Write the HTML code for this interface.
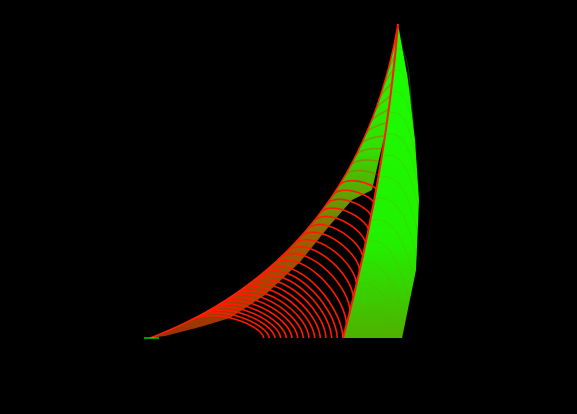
<!DOCTYPE html>
<html><head><meta charset="utf-8"><style>
html,body{margin:0;padding:0;background:#000;width:577px;height:414px;overflow:hidden}
svg{display:block}
</style></head><body>
<svg id="chart" width="577" height="414" viewBox="0 0 577 414">
<rect width="577" height="414" fill="#000"/>
<g id="green"></g>
<g id="red"></g>
<line x1="144" y1="338" x2="159" y2="338" stroke="#00ff00" stroke-width="1.2"/>
</svg>
<script>
// curve parameters (fraction along landing path)
const redFractions = [0.02,0.04,0.06,0.08,0.10,0.12,0.14,0.16,0.18,0.20,0.22,0.24,0.26,0.28,0.30,0.33,0.36,0.39,0.42,0.45,0.48,0.51,0.54,0.57,0.60,0.63,0.66,0.69,0.72,0.75,0.78,0.81,0.84,0.87,0.90,0.93,0.96];
const greenFractions = [0.0,0.08,0.16,0.24,0.32,0.4,0.48,0.56,0.64,0.72,0.8,0.88,0.96];

const NS='http://www.w3.org/2000/svg';
const O={x:150,y:338}, TOP={x:398,y:24}, LB={x:343,y:338};
function env(u){
  const p0=O,p1={x:250,y:300},p2={x:365,y:215},p3=TOP;const m=1-u;
  return {x:m*m*m*p0.x+3*m*m*u*p1.x+3*m*u*u*p2.x+u*u*u*p3.x,
          y:m*m*m*p0.y+3*m*m*u*p1.y+3*m*u*u*p2.y+u*u*u*p3.y};
}
function lineL(t){
  const c={x:385,y:180},m=1-t;
  return {x:m*m*LB.x+2*m*t*c.x+t*t*TOP.x,y:m*m*LB.y+2*m*t*c.y+t*t*TOP.y};
}
function landing(f){
  const a=0.3;
  if(f<=a){return {x:258+(LB.x-258)*f/a,y:338};}
  return lineL((f-a)/(1-a));
}
function right(t){
  const pts=[[398,24],[408,80],[415,140],[419,200],[416,270],[402,338]];
  const s=t*(pts.length-1),i=Math.min(Math.floor(s),pts.length-2),r=s-i;
  return {x:pts[i][0]+(pts[i+1][0]-pts[i][0])*r,y:pts[i][1]+(pts[i+1][1]-pts[i][1])*r};
}
const G=document.getElementById('green'),R=document.getElementById('red');
const defs=document.createElementNS(NS,'defs');
defs.innerHTML='<linearGradient id="gg" x1="0" y1="0" x2="0" y2="1"><stop offset="0" stop-color="#1aff00"/><stop offset="0.7" stop-color="#22f000"/><stop offset="1" stop-color="#4fb000"/></linearGradient>'+
'<linearGradient id="bg" gradientUnits="userSpaceOnUse" x1="0" y1="338" x2="0" y2="24"><stop offset="0" stop-color="#a03000"/><stop offset="0.3" stop-color="#a05a00"/><stop offset="0.45" stop-color="#60a000"/><stop offset="0.6" stop-color="#30e000"/><stop offset="1" stop-color="#20ff00"/></linearGradient>';
document.getElementById('chart').insertBefore(defs,G);
let d='M'+LB.x+','+LB.y;
for(let k=1;k<=30;k++){const p=lineL(k/30);d+=' L'+p.x.toFixed(1)+','+p.y.toFixed(1);}
for(let k=0;k<=40;k++){const p=right(k/40);d+=' L'+p.x.toFixed(1)+','+p.y.toFixed(1);}
const fill=document.createElementNS(NS,'path');
fill.setAttribute('d',d+' Z');fill.setAttribute('fill','url(#gg)');


G.appendChild(fill);
greenFractions.forEach(g=>{
  const t=0.1+g*0.85;
  const P=lineL(t);
  const Q=right(Math.min(1,(1-t)+0.2));
  const c={x:(P.x+Q.x)/2+6,y:Math.min(P.y,Q.y)-10};
  const p=document.createElementNS(NS,'path');
  p.setAttribute('d',`M${P.x},${P.y} Q${c.x},${c.y} ${Q.x},${Q.y}`);
  p.setAttribute('fill','none');p.setAttribute('stroke','#60b000');p.setAttribute('stroke-opacity','0.3');p.setAttribute('stroke-width','1');
  
  
  G.appendChild(p);
});
const inner=[[165,336],[200,327],[230,318],[265,295],[300,262],[330,225],[352,200],[372,190],[385,133],[393,80],[398,24]];
let bd='M'+O.x+','+O.y;
for(let k=1;k<=50;k++){const p=env(k/50);bd+=' L'+p.x.toFixed(1)+','+p.y.toFixed(1);}
for(let k=inner.length-1;k>=0;k--){bd+=' L'+inner[k][0]+','+inner[k][1];}
const band=document.createElementNS(NS,'path');
band.setAttribute('d',bd+' Z');band.setAttribute('fill','url(#bg)');


R.appendChild(band);
redFractions.forEach(f=>{
  const E=landing(f);
  const u=Math.min(0.95,0.12+0.85*f);
  const D=env(u);const D2=env(u+0.01);
  const tx=D2.x-D.x,ty=D2.y-D.y,L=Math.hypot(tx,ty);
  const dist=Math.hypot(E.x-D.x,E.y-D.y);
  const c1={x:D.x+tx/L*dist*0.35,y:D.y+ty/L*dist*0.35};
  const c2={x:E.x-2,y:E.y-(E.y-D.y)*0.5-4};
  const pd=`M${D.x.toFixed(1)},${D.y.toFixed(1)} C${c1.x.toFixed(1)},${c1.y.toFixed(1)} ${c2.x.toFixed(1)},${c2.y.toFixed(1)} ${E.x.toFixed(1)},${E.y.toFixed(1)}`;
  const p=document.createElementNS(NS,'path');
  p.setAttribute('d',pd);p.setAttribute('fill','none');p.setAttribute('stroke','#ff1a00');p.setAttribute('stroke-width','1.6');
  p.setAttribute('stroke-opacity',E.y<185?'0.35':'1');
  
  
  R.appendChild(p);
});
const envp=document.createElementNS(NS,'path');
let ed='M'+O.x+','+O.y;for(let k=1;k<=50;k++){const p=env(k/50);ed+=' L'+p.x.toFixed(1)+','+p.y.toFixed(1);}
envp.setAttribute('d',ed);envp.setAttribute('fill','none');envp.setAttribute('stroke','#ff2000');envp.setAttribute('stroke-width','1.5');


R.appendChild(envp);
const ln=document.createElementNS(NS,'path');
ln.setAttribute('d',`M${LB.x},${LB.y} Q385,180 ${TOP.x},${TOP.y}`);ln.setAttribute('fill','none');ln.setAttribute('stroke','#ff1a00');ln.setAttribute('stroke-width','2');


R.appendChild(ln);
</script>
</body></html>
